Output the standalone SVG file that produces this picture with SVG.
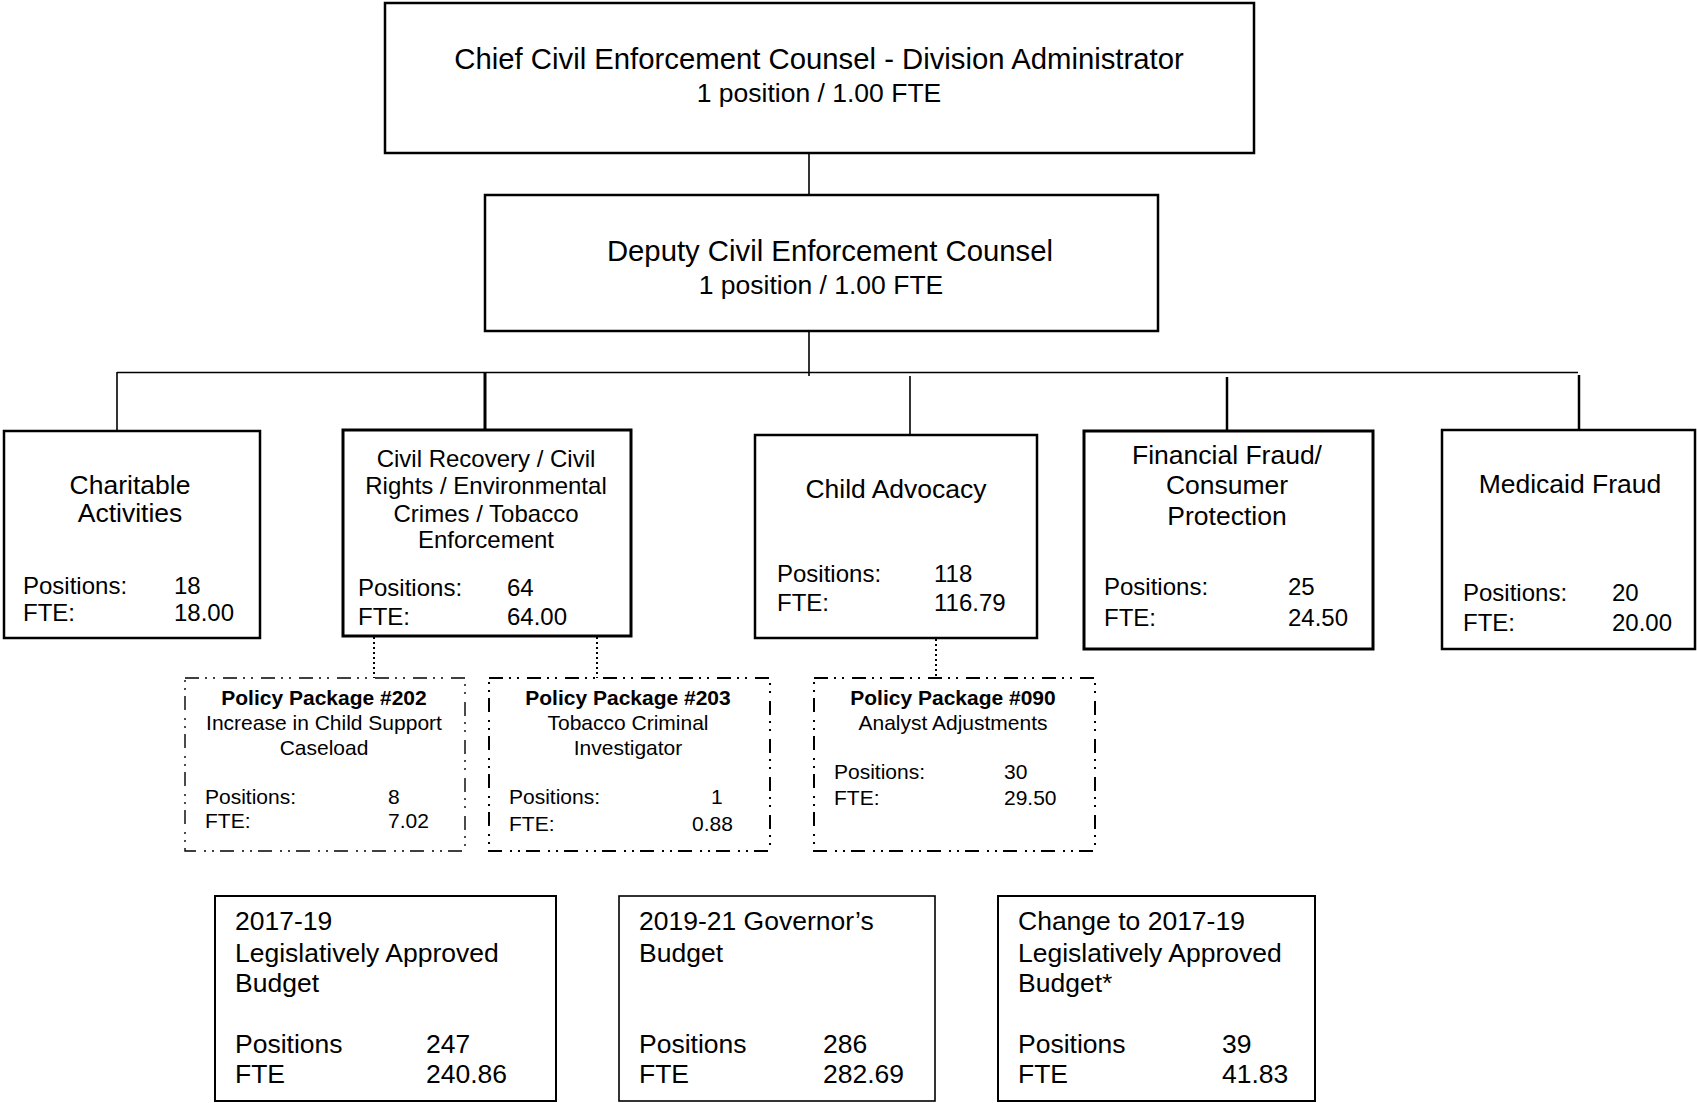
<svg xmlns="http://www.w3.org/2000/svg" width="1697" height="1103" viewBox="0 0 1697 1103">
<style>
text{font-family:"Liberation Sans",Arial,sans-serif;fill:#000}
.box{fill:#fff;stroke:#000;stroke-width:2.5}
.pp{fill:#fff;stroke:#000;stroke-width:2;stroke-dasharray:14 6 2 6 2 8}
.pp.thin{stroke-width:1.4}
.t1{font-size:29.3px}
.t2{font-size:26.5px}
.t24{font-size:24px}
.t21{font-size:21px}
.b{font-weight:bold}
.c{text-anchor:middle}
.ln{stroke:#000;fill:none;stroke-width:1.6}
.dot{stroke:#000;fill:none;stroke-width:2;stroke-dasharray:2 3}
</style>
<rect width="1697" height="1103" fill="#fff"/>
<g id="connectors">
<line class="ln" x1="809" y1="153" x2="809" y2="195"/>
<line class="ln" x1="809" y1="331" x2="809" y2="376"/>
<line class="ln" x1="117" y1="372.5" x2="1578" y2="372.5"/>
<line class="ln" x1="117" y1="372" x2="117" y2="431"/>
<line class="ln" x1="485" y1="372" x2="485" y2="430" style="stroke-width:3"/>
<line class="ln" x1="910" y1="376" x2="910" y2="435"/>
<line class="ln" x1="1227" y1="377" x2="1227" y2="431" style="stroke-width:2.5"/>
<line class="ln" x1="1579" y1="375" x2="1579" y2="430" style="stroke-width:2.5"/>
<line class="dot" x1="374" y1="637" x2="374" y2="678"/>
<line class="dot" x1="597" y1="637" x2="597" y2="678"/>
<line class="dot" x1="936" y1="639" x2="936" y2="678"/>
</g>
<g id="chief">
<rect class="box" x="385" y="3" width="869" height="150"/>
<text class="t1 c" x="819" y="69">Chief Civil Enforcement Counsel - Division Administrator</text>
<text class="t2 c" x="819" y="102">1 position / 1.00 FTE</text>
</g>
<g id="deputy">
<rect class="box" x="485" y="195" width="673" height="136"/>
<text class="t1 c" x="830" y="261">Deputy Civil Enforcement Counsel</text>
<text class="t2 c" x="821" y="294">1 position / 1.00 FTE</text>
</g>
<g id="charitable">
<rect class="box" x="4" y="431" width="256" height="207"/>
<text class="t2 c" x="130" y="494">Charitable</text>
<text class="t2 c" x="130" y="522">Activities</text>
<text class="t24" x="23" y="594">Positions:</text>
<text class="t24" x="174" y="594">18</text>
<text class="t24" x="23" y="621">FTE:</text>
<text class="t24" x="174" y="621">18.00</text>
</g>
<g id="civil">
<rect class="box" x="343" y="430" width="288" height="206" style="stroke-width:3"/>
<text class="t24 c" x="486" y="467">Civil Recovery / Civil</text>
<text class="t24 c" x="486" y="494">Rights / Environmental</text>
<text class="t24 c" x="486" y="522">Crimes / Tobacco</text>
<text class="t24 c" x="486" y="548">Enforcement</text>
<text class="t24" x="358" y="596">Positions:</text>
<text class="t24" x="507" y="596">64</text>
<text class="t24" x="358" y="625">FTE:</text>
<text class="t24" x="507" y="625">64.00</text>
</g>
<g id="child">
<rect class="box" x="755" y="435" width="282" height="203"/>
<text class="t2 c" x="896" y="498">Child Advocacy</text>
<text class="t24" x="777" y="582">Positions:</text>
<text class="t24" x="934" y="582">118</text>
<text class="t24" x="777" y="611">FTE:</text>
<text class="t24" x="934" y="611">116.79</text>
</g>
<g id="financial">
<rect class="box" x="1084" y="431" width="289" height="218" style="stroke-width:3"/>
<text class="t2 c" x="1227" y="464">Financial Fraud/</text>
<text class="t2 c" x="1227" y="494">Consumer</text>
<text class="t2 c" x="1227" y="525">Protection</text>
<text class="t24" x="1104" y="595">Positions:</text>
<text class="t24" x="1288" y="595">25</text>
<text class="t24" x="1104" y="626">FTE:</text>
<text class="t24" x="1288" y="626">24.50</text>
</g>
<g id="medicaid">
<rect class="box" x="1442" y="430" width="253" height="219"/>
<text class="t2 c" x="1570" y="493">Medicaid Fraud</text>
<text class="t24" x="1463" y="601">Positions:</text>
<text class="t24" x="1612" y="601">20</text>
<text class="t24" x="1463" y="631">FTE:</text>
<text class="t24" x="1612" y="631">20.00</text>
</g>
<g id="pp202">
<rect class="pp thin" x="185" y="678" width="280" height="173"/>
<text class="t21 b c" x="324" y="705">Policy Package #202</text>
<text class="t21 c" x="324" y="730">Increase in Child Support</text>
<text class="t21 c" x="324" y="755">Caseload</text>
<text class="t21" x="205" y="804">Positions:</text>
<text class="t21" x="388" y="804">8</text>
<text class="t21" x="205" y="828">FTE:</text>
<text class="t21" x="388" y="828">7.02</text>
</g>
<g id="pp203">
<rect class="pp" x="489" y="678" width="281" height="173"/>
<text class="t21 b c" x="628" y="705">Policy Package #203</text>
<text class="t21 c" x="628" y="730">Tobacco Criminal</text>
<text class="t21 c" x="628" y="755">Investigator</text>
<text class="t21" x="509" y="804">Positions:</text>
<text class="t21" x="711" y="804">1</text>
<text class="t21" x="509" y="831">FTE:</text>
<text class="t21" x="692" y="831">0.88</text>
</g>
<g id="pp090">
<rect class="pp" x="814" y="678" width="281" height="173"/>
<text class="t21 b c" x="953" y="705">Policy Package #090</text>
<text class="t21 c" x="953" y="730">Analyst Adjustments</text>
<text class="t21" x="834" y="779">Positions:</text>
<text class="t21" x="1004" y="779">30</text>
<text class="t21" x="834" y="805">FTE:</text>
<text class="t21" x="1004" y="805">29.50</text>
</g>
<g id="lab2017">
<rect class="box" x="215" y="896" width="341" height="205" style="stroke-width:2"/>
<text class="t2" x="235" y="930">2017-19</text>
<text class="t2" x="235" y="962">Legislatively Approved</text>
<text class="t2" x="235" y="992">Budget</text>
<text class="t2" x="235" y="1053">Positions</text>
<text class="t2" x="426" y="1053">247</text>
<text class="t2" x="235" y="1083">FTE</text>
<text class="t2" x="426" y="1083">240.86</text>
</g>
<g id="gov2019">
<rect class="box" x="619" y="896" width="316" height="205" style="stroke-width:1.6"/>
<text class="t2" x="639" y="930">2019-21 Governor’s</text>
<text class="t2" x="639" y="962">Budget</text>
<text class="t2" x="639" y="1053">Positions</text>
<text class="t2" x="823" y="1053">286</text>
<text class="t2" x="639" y="1083">FTE</text>
<text class="t2" x="823" y="1083">282.69</text>
</g>
<g id="change">
<rect class="box" x="998" y="896" width="317" height="205" style="stroke-width:2"/>
<text class="t2" x="1018" y="930">Change to 2017-19</text>
<text class="t2" x="1018" y="962">Legislatively Approved</text>
<text class="t2" x="1018" y="992">Budget*</text>
<text class="t2" x="1018" y="1053">Positions</text>
<text class="t2" x="1222" y="1053">39</text>
<text class="t2" x="1018" y="1083">FTE</text>
<text class="t2" x="1222" y="1083">41.83</text>
</g>
</svg>
